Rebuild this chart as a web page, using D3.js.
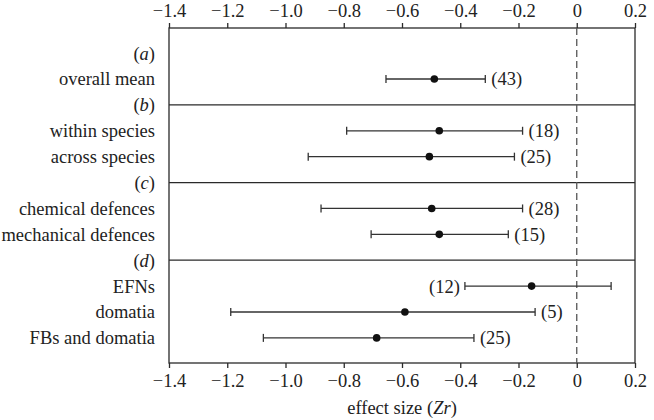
<!DOCTYPE html>
<html>
<head>
<meta charset="utf-8">
<script src="https://cdn.jsdelivr.net/npm/d3@7"></script>
<style>
  html, body { margin: 0; padding: 0; background: #fff; }
  svg { display: block; }
  svg text { font-family: "Liberation Serif", "Times New Roman", Times, serif; fill: #222; }
</style>
</head>
<body>
<svg id="chart" width="654" height="420"></svg>
<script>
// ---- data ----
const rowLabels = ["(a)", "overall mean", "(b)", "within species", "across species",
  "(c)", "chemical defences", "mechanical defences", "(d)", "EFNs", "domatia", "FBs and domatia"];
const groupRows = ["(a)", "(b)", "(c)", "(d)"];
const estCategories = ["overall mean", "within species", "across species", "chemical defences",
  "mechanical defences", "EFNs", "domatia", "FBs and domatia"];
const meanValues = [-0.489, -0.472, -0.506, -0.498, -0.472, -0.155, -0.590, -0.687];
const lowerCI   = [-0.655, -0.790, -0.922, -0.878, -0.706, -0.384, -1.188, -1.076];
const upperCI   = [-0.314, -0.186, -0.214, -0.186, -0.235, 0.118, -0.143, -0.353];
const sampleSizes = [43, 18, 25, 28, 15, 12, 5, 25];
const tickValues = [-1.4, -1.2, -1.0, -0.8, -0.6, -0.4, -0.2, 0, 0.2];
const xTitle = "effect size";
const xTitleVar = "Zr";

// ---- layout ----
(function () {
const svg = d3.select("#chart");
const pL = 169, pR = 635, pT = 28, pB = 363;
const ink = "#2a2a2a";
const serif = "'Liberation Serif', 'Times New Roman', Times, serif";
const fs = 18.5;

const x = d3.scaleLinear().domain([-1.4, 0.2]).range([pL, pR]);
const y = d3.scalePoint().domain(rowLabels).range([pT, pB]).padding(0.97);

const fmt = d => d === 0 ? "0" : d3.format(".1f")(d);

// axes
const axTop = svg.append("g").attr("transform", `translate(0,${pT})`)
  .call(d3.axisTop(x).tickValues(tickValues).tickFormat(fmt).tickSize(5).tickPadding(6));
const axBot = svg.append("g").attr("transform", `translate(0,${pB})`)
  .call(d3.axisBottom(x).tickValues(tickValues).tickFormat(fmt).tickSize(5).tickPadding(5.5));
[axTop, axBot].forEach(a => {
  a.attr("font-family", serif).attr("font-size", fs);
  a.select(".domain").remove();
  a.selectAll(".tick line").attr("stroke", ink).attr("stroke-width", 1.3);
  a.selectAll(".tick text").style("font-family", serif)
    .attr("font-size", fs).attr("fill", ink);
});

// frame
svg.append("rect").attr("x", pL).attr("y", pT)
  .attr("width", pR - pL).attr("height", pB - pT)
  .attr("fill", "none").attr("stroke", ink).attr("stroke-width", 1.3);

// group separators (b),(c),(d)
svg.selectAll("line.sep").data(groupRows.slice(1)).enter().append("line")
  .attr("class", "sep")
  .attr("x1", pL).attr("x2", pR)
  .attr("y1", d => y(d)).attr("y2", d => y(d))
  .attr("stroke", ink).attr("stroke-width", 1.3);

// zero reference line
svg.append("line")
  .attr("x1", x(0)).attr("x2", x(0)).attr("y1", pT).attr("y2", pB)
  .attr("stroke", "#555").attr("stroke-width", 1.3).attr("stroke-dasharray", "7,4");

// row labels
svg.selectAll("text.row").data(rowLabels).enter().append("text")
  .attr("class", "row")
  .style("font-family", serif)
  .attr("x", pL - 14).attr("y", d => y(d)).attr("dy", "0.35em")
  .attr("text-anchor", "end").attr("font-size", fs)
  .each(function(d) {
    const t = d3.select(this);
    const m = d.match(/^\((\w)\)$/);
    if (m) {
      t.append("tspan").text("(");
      t.append("tspan").attr("font-style", "italic").text(m[1]);
      t.append("tspan").text(")");
    } else {
      t.text(d);
    }
  });

// estimates
const rows = estCategories.map((c, i) => ({
  cat: c, m: meanValues[i], lo: lowerCI[i], hi: upperCI[i], n: sampleSizes[i]
}));
const capH = 4;
const g = svg.append("g");
rows.forEach(r => {
  const yy = y(r.cat);
  g.append("line").attr("x1", x(r.lo)).attr("x2", x(r.hi)).attr("y1", yy).attr("y2", yy)
    .attr("stroke", "#333").attr("stroke-width", 1.3);
  [r.lo, r.hi].forEach(v => {
    g.append("line").attr("x1", x(v)).attr("x2", x(v)).attr("y1", yy - capH).attr("y2", yy + capH)
      .attr("stroke", "#333").attr("stroke-width", 1.3);
  });
  g.append("circle").attr("cx", x(r.m)).attr("cy", yy).attr("r", 3.8).attr("fill", "#111");
  const onLeft = r.hi > 0;
  g.append("text")
    .style("font-family", serif)
    .attr("x", onLeft ? x(r.lo) - 5 : x(r.hi) + 6)
    .attr("y", yy).attr("dy", "0.35em")
    .attr("text-anchor", onLeft ? "end" : "start")
    .attr("font-size", fs)
    .text(`(${r.n})`);
});

// axis title
const title = svg.append("text")
  .style("font-family", serif)
  .attr("x", (pL + pR) / 2).attr("y", 414)
  .attr("text-anchor", "middle").attr("font-size", fs);
title.append("tspan").text(xTitle + " (");
title.append("tspan").attr("font-style", "italic").text(xTitleVar);
title.append("tspan").text(")");
})();
</script>
</body>
</html>
